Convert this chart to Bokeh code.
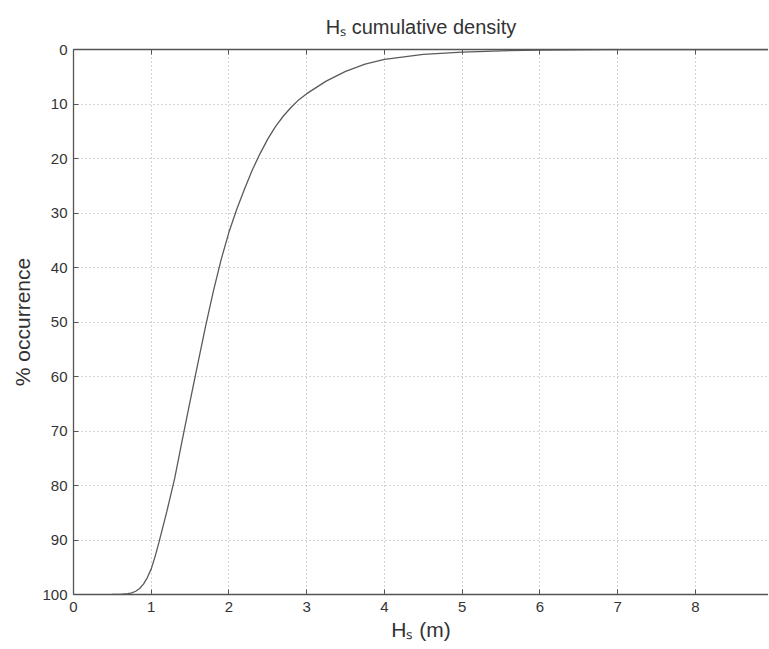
from bokeh.plotting import figure
from bokeh.models import Range1d, LinearAxis, FixedTicker
from bokeh.embed import file_html
from bokeh.resources import INLINE

# Data
hs_m = [0.5, 0.6, 0.7, 0.75, 0.8, 0.85, 0.9, 0.95, 1.0, 1.05, 1.1, 1.2, 1.3, 1.4, 1.5,
        1.6, 1.7, 1.8, 1.9, 2.0, 2.1, 2.2, 2.3, 2.4, 2.5, 2.6, 2.7, 2.8, 2.9, 3.0, 3.25,
        3.5, 3.75, 4.0, 4.5, 5.0, 5.5, 6.0, 7.0, 8.0, 9.0]
pct_occurrence = [100.0, 99.97, 99.85, 99.7, 99.4, 98.9, 98.1, 96.9, 95.3, 93.0, 90.4,
                  84.8, 78.8, 71.6, 64.5, 57.6, 50.7, 44.3, 38.5, 33.5, 29.3, 25.6,
                  22.1, 19.1, 16.4, 14.1, 12.2, 10.6, 9.2, 8.1, 5.8, 4.0, 2.7, 1.8,
                  0.9, 0.5, 0.25, 0.1, 0.0, 0.0, 0.0]
x_ticks = [0, 1, 2, 3, 4, 5, 6, 7, 8]
y_ticks = [0, 10, 20, 30, 40, 50, 60, 70, 80, 90, 100]

FONT = "Liberation Sans"
AX = "#555555"
TXT = "#333333"

p = figure(width=768, height=648, output_backend="svg", toolbar_location=None,
           x_range=Range1d(0, 8.94), y_range=Range1d(100, 0),
           min_border_left=73, min_border_right=0, min_border_top=49, min_border_bottom=54,
           title="Hₛ cumulative density")
p.outline_line_color = None
p.background_fill_color = "white"
p.border_fill_color = "white"

p.title.align = "center"
p.title.text_font = FONT
p.title.text_font_size = "20px"
p.title.text_font_style = "normal"
p.title.text_color = TXT
p.title.standoff = 24

p.line(hs_m, pct_occurrence, line_color="#5a5a5a", line_width=1.3)

for ax in (p.xaxis[0], p.yaxis[0]):
    ax.axis_line_color = AX
    ax.axis_line_width = 1.3
    ax.major_tick_in = 5
    ax.major_tick_out = 0
    ax.major_tick_line_color = AX
    ax.minor_tick_line_color = None
    ax.major_label_text_font = FONT
    ax.major_label_text_font_size = "15px"
    ax.major_label_text_color = TXT
    ax.axis_label_text_font = FONT
    ax.axis_label_text_font_size = "21px"
    ax.axis_label_text_font_style = "normal"
    ax.axis_label_text_color = TXT
p.xaxis[0].ticker = FixedTicker(ticks=x_ticks)
p.yaxis[0].ticker = FixedTicker(ticks=y_ticks)
p.xaxis[0].major_label_standoff = 7
p.yaxis[0].major_label_standoff = 6
p.xaxis[0].axis_label = "Hₛ (m)"
p.xaxis[0].axis_label_standoff = 3
p.yaxis[0].axis_label = "% occurrence"
p.yaxis[0].axis_label_standoff = 5

top = LinearAxis(ticker=FixedTicker(ticks=x_ticks))
top.axis_line_color = AX
top.axis_line_width = 1.3
top.major_tick_in = 5
top.major_tick_out = 0
top.major_tick_line_color = AX
top.minor_tick_line_color = None
top.major_label_text_alpha = 0
top.major_label_text_font_size = "2px"
top.major_label_standoff = 0
p.add_layout(top, "above")

p.xgrid.ticker = FixedTicker(ticks=x_ticks)
p.ygrid.ticker = FixedTicker(ticks=y_ticks)
for g in (p.xgrid[0], p.ygrid[0]):
    g.grid_line_color = "#a8a8a8"
    g.grid_line_dash = "1 3"
    g.grid_line_width = 1

open("out.html", "w").write(file_html(p, INLINE))
